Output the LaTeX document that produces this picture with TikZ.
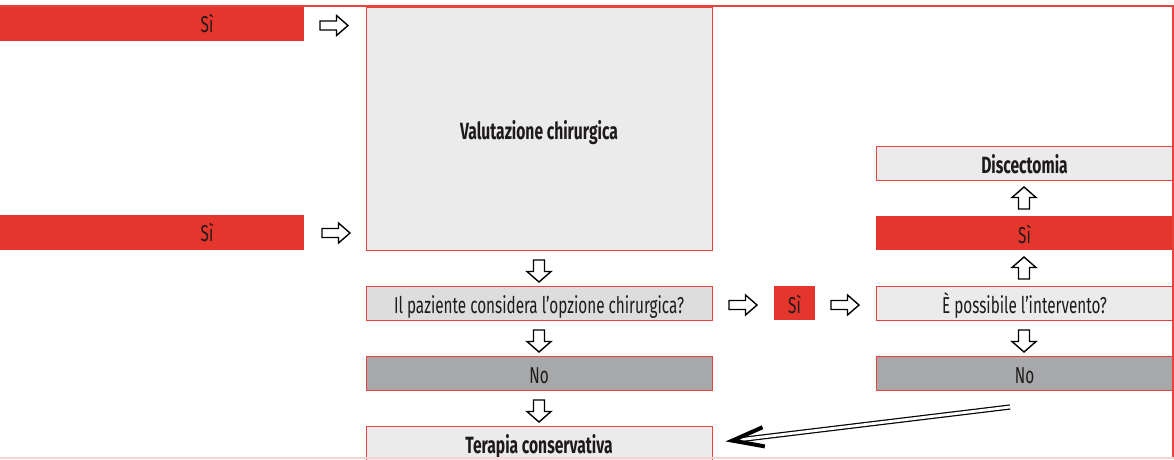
\documentclass[tikz,border=0pt]{standalone}
\usepackage{fontspec}
\setmainfont{Fira Sans}[FakeStretch=0.665]
\usetikzlibrary{calc}
\definecolor{cred}{HTML}{E5362E}
\definecolor{bred}{HTML}{E8433C}
\definecolor{lgray}{HTML}{EBEBEB}
\definecolor{mgray}{HTML}{DDDDDE}
\definecolor{dgray}{HTML}{A7A8AA}
\definecolor{pinkl}{HTML}{F9D3D1}
\definecolor{txt}{HTML}{1E1A1B}
\begin{document}
\begin{tikzpicture}[x=1pt,y=-1pt,
  lbl/.style={font=\fontsize{23}{26}\selectfont, text=txt, inner sep=0pt},
  bfl/.style={font=\fontsize{23.5}{26}\selectfont\bfseries},
  box/.style={lbl, draw=bred, line width=1pt, minimum width=346pt, minimum height=34pt, text height=21pt, text depth=0pt},
  rbox/.style={box, minimum width=297pt},
  redbar/.style={fill=cred, draw=none, minimum width=304pt, minimum height=35pt, inner sep=0pt},
  barr/.style={draw=black, line width=1.4pt, fill=white, line join=miter},
  rarr/.pic={\path[barr] (-14,-4.5) -- (2.5,-4.5) -- (2.5,-10) -- (14,0) -- (2.5,10) -- (2.5,4.5) -- (-14,4.5) -- cycle;},
  darr/.pic={\path[barr] (-5.5,-11) -- (5.5,-11) -- (5.5,0.5) -- (12,0.5) -- (0,11) -- (-12,0.5) -- (-5.5,0.5) -- cycle;},
  uarr/.pic={\path[barr] (-5.5,11) -- (5.5,11) -- (5.5,-0.5) -- (12,-0.5) -- (0,-11) -- (-12,-0.5) -- (-5.5,-0.5) -- cycle;},
]
\useasboundingbox (0,0) rectangle (1174,459);
\clip (0,0) rectangle (1174,459);
% left red bars
\node[redbar] (si1) at (152,23.5) {};
\node[lbl, anchor=base] (si1t) at (207,32) {Sì};
\node[redbar] (si2) at (152,232.5) {};
\node[lbl, anchor=base] (si2t) at (207,241) {Sì};
% centre column
\node[box, fill=lgray, minimum height=243pt, bfl] (valut) at (539,128.5) {Valutazione chirurgica};
\node[box, fill=mgray] (q1) at (539,303) {Il paziente considera l’opzione chirurgica?};
\node[box, fill=dgray] (no1) at (539,373) {No};
\node[box, fill=lgray, bfl] (ter) at (539,443) {Terapia conservativa};
% small Si
\node[box, fill=cred, draw=none, minimum width=41pt] (sis) at (794.5,303) {Sì};
% right column
\node[rbox, fill=lgray, bfl] (disc) at (1024.5,163) {Discectomia};
\node[rbox, fill=cred, draw=none] (sir) at (1024.5,232.5) {Sì};
\node[rbox, fill=lgray] (poss) at (1024.5,303) {È possibile l’intervento?};
\node[rbox, fill=dgray] (no2) at (1024.5,373) {No};
% block arrows
\pic at (334,25.5) {rarr};
\pic at (336,233) {rarr};
\pic at (743,305) {rarr};
\pic at (845,305) {rarr};
\pic at (539,271) {darr};
\pic at (539,341) {darr};
\pic at (539,411) {darr};
\pic at (1024,341) {darr};
\pic at (1024,268) {uarr};
\pic at (1024,198) {uarr};
% double arrow
\coordinate (dstart) at (1010,407);
\coordinate (tip) at ($(ter.east)!20pt!(dstart)$);
\draw[double=white, double distance=2.8pt, line width=1.2pt] (dstart) -- ($(tip)!3pt!(dstart)$);
\draw[line width=4pt, line join=miter] ($(tip)!33pt!17:(dstart)$) -- (tip) -- ($(tip)!33pt!-17:(dstart)$);
% frame lines
\draw[bred, line width=2.4pt] (0,5.8) -- (1174,5.8);
\draw[bred, line width=2.4pt] (1172.8,5) -- (1172.8,459);
\draw[pinkl, line width=1.5pt] (0,457.8) -- (1174,457.8);
\end{tikzpicture}
\end{document}
